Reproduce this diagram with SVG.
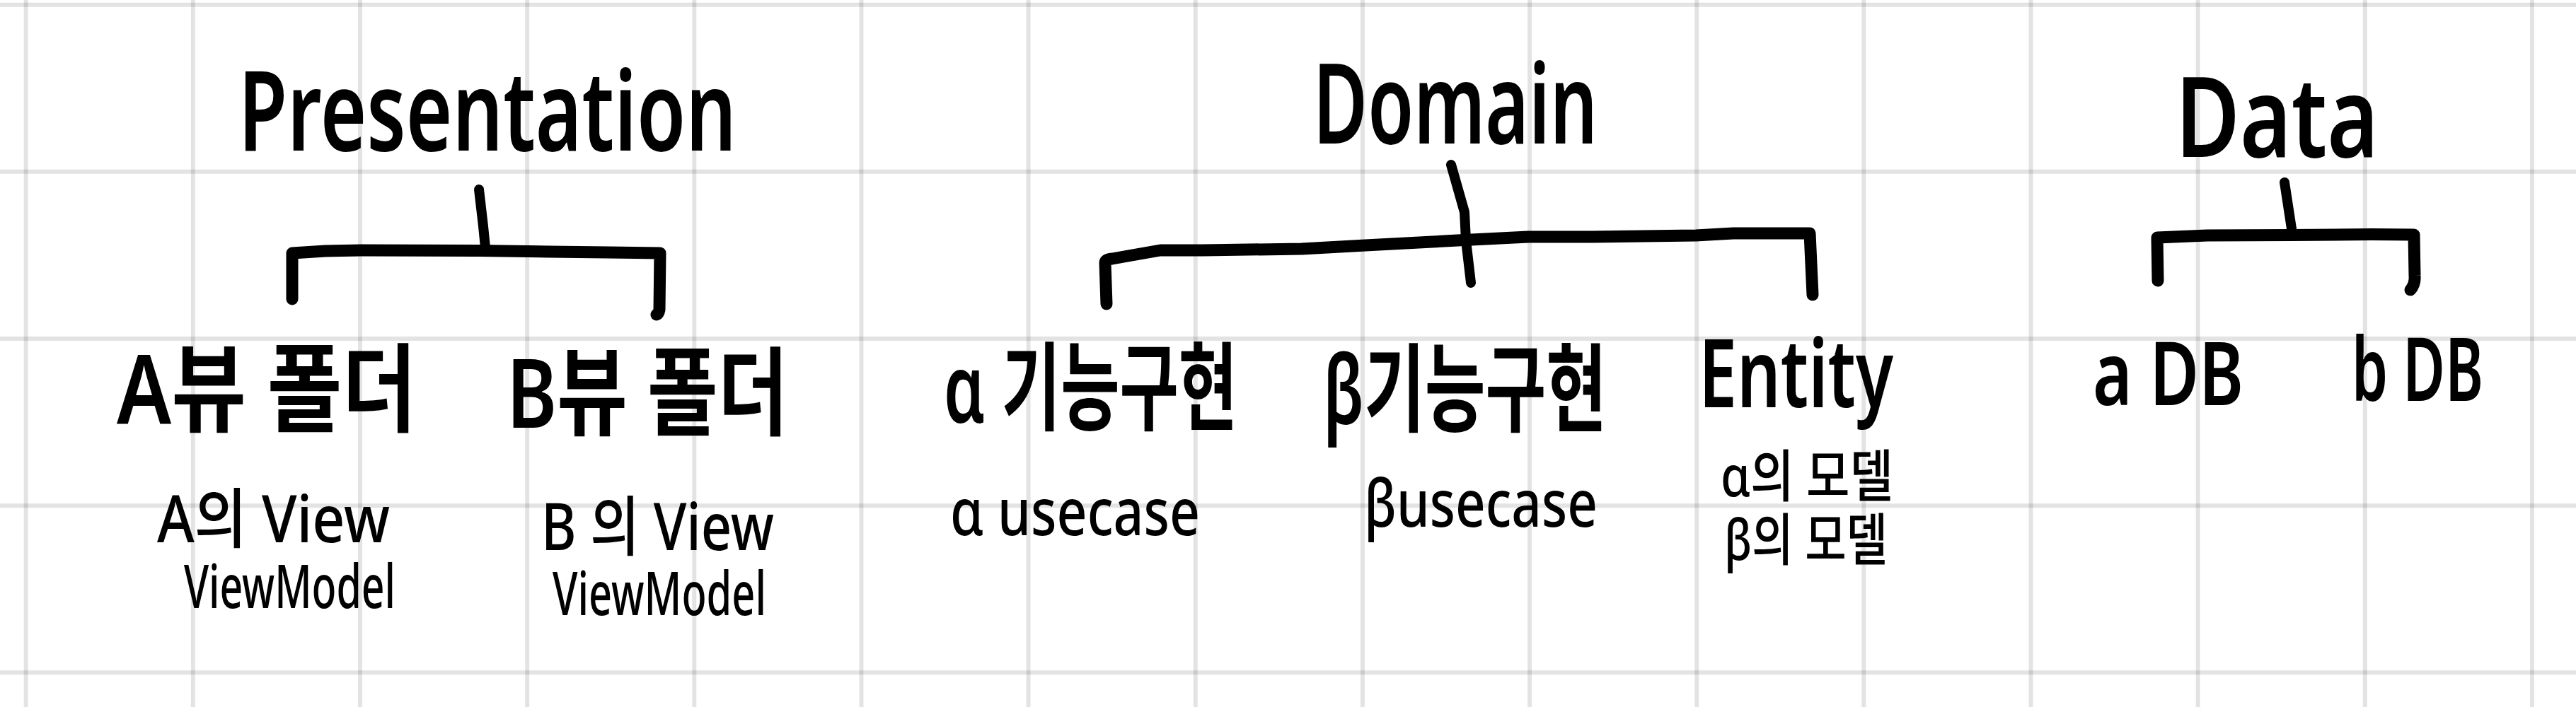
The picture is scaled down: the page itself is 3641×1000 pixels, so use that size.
<svg xmlns="http://www.w3.org/2000/svg" width="3641" height="1000" viewBox="0 0 3641 1000">
  <style>
    .grid { stroke: #000; stroke-opacity: 0.11; stroke-width: 6; fill: none; }
    .conn { stroke: #000; stroke-width: 17; fill: none; stroke-linecap: round; stroke-linejoin: round; }
    .stem { stroke-width: 14; }
    text { font-family: 'Noto Sans', 'Noto Sans CJK KR', sans-serif; fill: #000; }
    .h { font-size: 158px; font-weight: 600; }
    .n { font-size: 136px; font-weight: 600; }
    .s { font-size: 92px; font-weight: 500; }
    .t { font-size: 80px; font-weight: 500; }
  </style>
  <rect x="0" y="0" width="3641" height="1000" fill="#ffffff"/>
  <g id="grid">
    <path class="grid" d="M36.7,0V1000 M272.85,0V1000 M509,0V1000 M745.15,0V1000 M981.3,0V1000 M1217.45,0V1000 M1453.6,0V1000 M1689.75,0V1000 M1925.9,0V1000 M2162.05,0V1000 M2398.2,0V1000 M2634.35,0V1000 M2870.5,0V1000 M3106.65,0V1000 M3342.8,0V1000 M3578.95,0V1000"/>
    <path class="grid" d="M0,6.7H3641 M0,242.85H3641 M0,479H3641 M0,715.15H3641 M0,951.3H3641"/>
  </g>
  <g id="connectors">
    <path class="conn stem" d="M677,268 L683,320 L686,350"/>
    <path class="conn" d="M413,423 L413,358 L460,355 L510,354 L676,354.5 L776,356 L860,357 L933,358 L932,438 Q931,444 928,445"/>
    <path class="conn stem" d="M2051,233 L2070,300 L2072,340 L2079,400"/>
    <path class="conn" d="M1564,430 L1562,372 Q1562,367 1572,366 L1600,361 L1640,354 L1700,354 L1840,352 L1930,347 L2060,340 L2160,335 L2250,335 L2397,333 L2450,330 L2558,330 L2562,417"/>
    <path class="conn stem" d="M3229,258 L3240,330"/>
    <path class="conn" d="M3050,397 L3049,336 L3120,333 L3237,332.5 L3353,331.5 L3412,332 L3413,390 Q3414,402 3407,410"/>
  </g>
  <g id="presentation">
    <text class="h" x="337" y="213" textLength="704" lengthAdjust="spacingAndGlyphs">Presentation</text>
  </g>
  <g id="domain">
    <text class="h" x="1856" y="203" textLength="402" lengthAdjust="spacingAndGlyphs">Domain</text>
  </g>
  <g id="data">
    <text class="h" x="3075" y="222" textLength="287" lengthAdjust="spacingAndGlyphs">Data</text>
  </g>
  <g id="a-view-folder">
    <text class="n" x="165" y="600" textLength="424" lengthAdjust="spacingAndGlyphs">A뷰 폴더</text>
    <text class="s"><tspan x="222" y="767" textLength="329" lengthAdjust="spacingAndGlyphs">A의 View</tspan><tspan x="260" y="860" textLength="299" lengthAdjust="spacingAndGlyphs" style="font-size:86px">ViewModel</tspan></text>
  </g>
  <g id="b-view-folder">
    <text class="n" x="716" y="605" textLength="398" lengthAdjust="spacingAndGlyphs">B뷰 폴더</text>
    <text class="s"><tspan x="765" y="778" textLength="329" lengthAdjust="spacingAndGlyphs">B 의 View</tspan><tspan x="781" y="870" textLength="302" lengthAdjust="spacingAndGlyphs" style="font-size:86px">ViewModel</tspan></text>
  </g>
  <g id="alpha-feature">
    <text class="n" x="1334" y="598" textLength="415" lengthAdjust="spacingAndGlyphs">α 기능구현</text>
    <text class="s" x="1343" y="757" textLength="353" lengthAdjust="spacingAndGlyphs">α usecase</text>
  </g>
  <g id="beta-feature">
    <text class="n" x="1870" y="600" textLength="401" lengthAdjust="spacingAndGlyphs">β기능구현</text>
    <text class="s" x="1928" y="745" textLength="330" lengthAdjust="spacingAndGlyphs">βusecase</text>
  </g>
  <g id="entity">
    <text class="n" x="2401" y="576" textLength="275" lengthAdjust="spacingAndGlyphs" style="font-size:134px">Entity</text>
    <text class="t"><tspan x="2432" y="702" textLength="244" lengthAdjust="spacingAndGlyphs">α의 모델</tspan><tspan x="2437" y="792" textLength="231" lengthAdjust="spacingAndGlyphs">β의 모델</tspan></text>
  </g>
  <g id="a-db">
    <text class="n" x="2958" y="573" textLength="213" lengthAdjust="spacingAndGlyphs" style="font-size:125px">a DB</text>
  </g>
  <g id="b-db">
    <text class="n" x="3324" y="567" textLength="186" lengthAdjust="spacingAndGlyphs" style="font-size:125px">b DB</text>
  </g>
</svg>
